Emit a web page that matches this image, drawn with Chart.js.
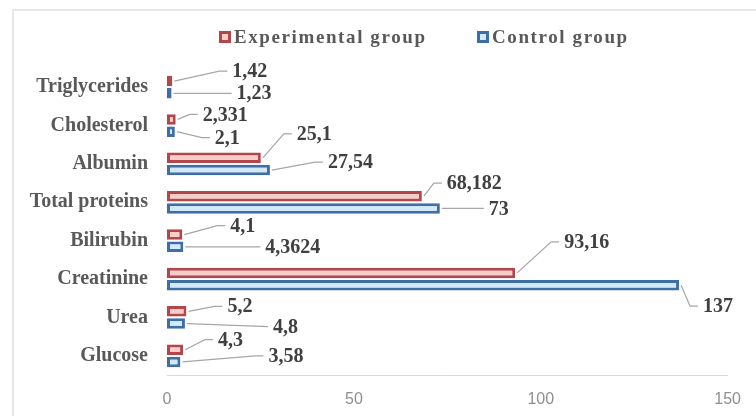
<!DOCTYPE html>
<html>
<head>
<meta charset="utf-8">
<script src="https://cdn.jsdelivr.net/npm/chart.js@4/dist/chart.umd.min.js"></script>
<style>
  html, body { margin: 0; padding: 0; background: #ffffff; }
  #wrap { width: 756px; height: 416px; position: relative; }
</style>
</head>
<body>
<div id="wrap"><canvas id="chart" width="756" height="416"></canvas></div>
<script>
// Blood biochemistry: experimental vs control group
const categories = ['Triglycerides', 'Cholesterol', 'Albumin', 'Total proteins', 'Bilirubin', 'Creatinine', 'Urea', 'Glucose'];
const experimentalValues = [1.42, 2.331, 25.1, 68.182, 4.1, 93.16, 5.2, 4.3];
const controlValues = [1.23, 2.1, 27.54, 73, 4.3624, 137, 4.8, 3.58];
const xTicks = [0, 50, 100, 150];
const seriesNames = ['Experimental group', 'Control group'];

// Callout placement for each value label: [dx from bar end, dy from bar centre]
const experimentalCallouts = [[60, -10], [27, -5], [36, -24], [25, -13], [48, -9], [49, -31], [41, -5], [35, -10]];
const controlCallouts = [[65, 0], [40, 6], [58, -8], [49, 0], [82, 0], [24, 21], [88, 3], [88, -6]];

const RED_EDGE = '#b3464a', RED_FILL = '#f7cdca';
const BLUE_EDGE = '#3f6da6', BLUE_FILL = '#d2e9f8';
const SERIF = '"Liberation Serif", "Times New Roman", serif';

const fmt = v => String(v).replace('.', ',');

// Faint outer frame of the chart panel
const framePlugin = {
  id: 'frame',
  beforeDraw(chart) {
    const ctx = chart.ctx;
    ctx.save();
    ctx.fillStyle = '#ffffff';
    ctx.fillRect(0, 0, chart.width, chart.height);
    ctx.strokeStyle = '#e8e8e8';
    ctx.lineWidth = 2;
    ctx.beginPath();
    ctx.moveTo(13, chart.height + 5);
    ctx.lineTo(13, 10);
    ctx.lineTo(chart.width + 5, 10);
    ctx.stroke();
    ctx.restore();
  }
};

// Legend with outlined square markers and spaced bold serif text
const legendPlugin = {
  id: 'spacedLegend',
  afterDraw(chart) {
    const ctx = chart.ctx;
    const items = [
      { x: 219, text: seriesNames[0], edge: RED_EDGE, fill: RED_FILL },
      { x: 477, text: seriesNames[1], edge: BLUE_EDGE, fill: BLUE_FILL }
    ];
    const cy = 37;
    ctx.save();
    items.forEach(it => {
      ctx.fillStyle = it.fill;
      ctx.fillRect(it.x, cy - 6, 12, 12);
      ctx.strokeStyle = it.edge;
      ctx.lineWidth = 3;
      ctx.strokeRect(it.x + 1.5, cy - 4.5, 9, 9);
      ctx.fillStyle = '#595959';
      ctx.font = 'bold 19px ' + SERIF;
      ctx.letterSpacing = '1.6px';
      ctx.textAlign = 'left';
      ctx.textBaseline = 'middle';
      ctx.fillText(it.text, it.x + 15, cy + 1);
    });
    ctx.restore();
  }
};

// Value labels with leader lines running back to the bar ends
const calloutPlugin = {
  id: 'callouts',
  afterDatasetsDraw(chart) {
    const ctx = chart.ctx;
    const placements = [experimentalCallouts, controlCallouts];
    ctx.save();
    chart.data.datasets.forEach((ds, di) => {
      const meta = chart.getDatasetMeta(di);
      meta.data.forEach((bar, j) => {
        const [dx, dy] = placements[di][j];
        const tx = bar.x + dx;
        const ty = bar.y + dy;
        ctx.strokeStyle = '#a6a6a6';
        ctx.lineWidth = 1.2;
        ctx.beginPath();
        ctx.moveTo(bar.x + 2, bar.y);
        if (Math.abs(dy) > 3) {
          ctx.lineTo(tx - 13, ty);
        }
        ctx.lineTo(tx - 5, ty);
        ctx.stroke();
        ctx.fillStyle = '#404040';
        ctx.font = 'bold 20px ' + SERIF;
        ctx.textAlign = 'left';
        ctx.textBaseline = 'middle';
        ctx.fillText(fmt(ds.data[j]), tx, ty + 1);
      });
    });
    ctx.restore();
  }
};

new Chart(document.getElementById('chart'), {
  type: 'bar',
  data: {
    labels: categories,
    datasets: [
      {
        label: seriesNames[0],
        data: experimentalValues,
        backgroundColor: RED_FILL,
        borderColor: RED_EDGE,
        borderWidth: 3,
        borderSkipped: false,
        categoryPercentage: 0.64,
        barPercentage: 0.86
      },
      {
        label: seriesNames[1],
        data: controlValues,
        backgroundColor: BLUE_FILL,
        borderColor: BLUE_EDGE,
        borderWidth: 3,
        borderSkipped: false,
        categoryPercentage: 0.64,
        barPercentage: 0.86
      }
    ]
  },
  options: {
    indexAxis: 'y',
    responsive: false,
    animation: false,
    events: [],
    layout: { padding: { top: 68, right: 28, bottom: 0, left: 0 } },
    plugins: {
      legend: { display: false },
      tooltip: { enabled: false }
    },
    scales: {
      x: {
        min: xTicks[0],
        max: xTicks[xTicks.length - 1],
        afterBuildTicks(scale) { scale.ticks = xTicks.map(v => ({ value: v })); },
        afterFit(scale) { scale.height = 41; },
        grid: { display: false, drawTicks: false },
        border: { display: true, color: '#d9d9d9', width: 1 },
        ticks: {
          padding: 15,
          color: '#8f8f8f',
          font: { family: '"Liberation Sans", Arial, sans-serif', size: 16 }
        }
      },
      y: {
        afterFit(scale) { scale.width = 167; },
        grid: { display: false, drawTicks: false },
        border: { display: false },
        ticks: {
          padding: 19,
          color: '#595959',
          font: { family: SERIF, size: 20, weight: 'bold' }
        }
      }
    }
  },
  plugins: [framePlugin, calloutPlugin, legendPlugin]
});
</script>
</body>
</html>
